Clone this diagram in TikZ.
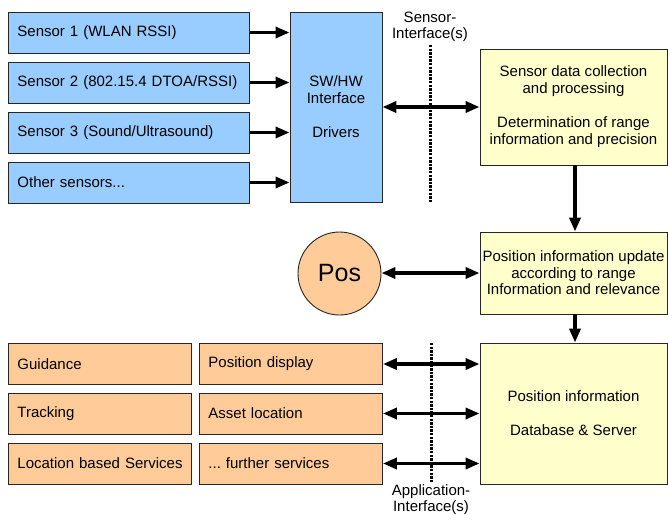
\documentclass[tikz,border=0pt]{standalone}
\usepackage{fontspec}
\setmainfont{Liberation Sans}
\usetikzlibrary{arrows.meta}
\definecolor{sblue}{HTML}{99CCFF}
\definecolor{sorange}{HTML}{FFCC99}
\definecolor{syellow}{HTML}{FFFFCC}
\frenchspacing
\begin{document}
\begin{tikzpicture}[x=1pt,y=-1pt,
  box/.style={draw=black!85, line width=0.9pt, inner sep=0pt, font=\fontsize{15}{17}\selectfont},
  lbox/.style={box, align=left, inner xsep=9pt, minimum height=41pt, anchor=west},
  cbox/.style={box, align=center},
  conn/.style={line width=3.4pt, -{Triangle[length=14pt,width=11pt]}},
  biconn/.style={line width=3.4pt, {Triangle[length=14pt,width=11pt]}-{Triangle[length=14pt,width=11pt]}},
  ifline/.style={line width=3pt, dash pattern=on 2.4pt off 1.2pt},
  iflabel/.style={align=center, inner sep=0pt, font=\fontsize{15}{16.5}\selectfont}
]
\useasboundingbox (0,0) rectangle (668,514);

% sensors
\node[lbox, fill=sblue, text width=223pt] (s1) at (8,32.5) {Sensor 1 (WLAN RSSI)};
\node[lbox, fill=sblue, text width=223pt] (s2) at (8,82.5) {Sensor 2 (802.15.4 DTOA/RSSI)};
\node[lbox, fill=sblue, text width=223pt] (s3) at (8,132.5) {Sensor 3 (Sound/Ultrasound)};
\node[lbox, fill=sblue, text width=223pt] (s4) at (8,182.5) {Other sensors...};

\node[cbox, fill=sblue, minimum width=92pt, minimum height=190pt] (sw) at (336,107)
  {SW/HW\\Interface\\[17pt]Drivers};

\foreach \s in {s1,s2,s3,s4}
  \draw[conn] (\s.east) -- (\s.east -| sw.west);

% sensor interface
\node[iflabel] (silabel) at (430,27) {Sensor-\\Interface(s)};
\coordinate (sitop) at (430,45);
\coordinate (sibot) at (430,202);
\draw[ifline] (sitop) -- (sibot);

% yellow boxes
\node[cbox, fill=syellow, minimum width=187pt, minimum height=116pt] (y1) at (573.5,107)
  {Sensor data collection\\and processing\\[17pt]Determination of range\\information and precision};
\node[cbox, fill=syellow, minimum width=187pt, minimum height=82pt, font=\fontsize{15}{16.5}\selectfont] (y2) at (573.5,273)
  {Position information update\\according to range\\Information and relevance};
\node[cbox, fill=syellow, minimum width=187pt, minimum height=141pt] (y3) at (573.5,413.5)
  {Position information\\[17pt]Database \& Server};

\draw[biconn] (sw.east |- y1.west) -- (y1.west);
\draw[conn] (y1.south -| 575,0) -- (y2.north -| 575,0);
\draw[conn] (y2.south -| 575,0) -- (y3.north -| 575,0);

% Pos
\node[circle, draw=black!85, line width=0.9pt, fill=sorange, minimum size=83pt, inner sep=0pt,
  font=\fontsize{25}{30}\selectfont] (pos) at (339.5,273.5) {Pos};
\draw[biconn] (pos.east |- y2.west) -- (y2.west);

% applications
\node[lbox, fill=sorange, text width=165pt] (a1) at (8,364) {Guidance};
\node[lbox, fill=sorange, text width=165pt] (a2) at (8,413.5) {Tracking};
\node[lbox, fill=sorange, text width=165pt] (a3) at (8,463.5) {\mbox{Location based Services}};
\node[lbox, fill=sorange, text width=165pt] (b1) at (199,364) {Position display};
\node[lbox, fill=sorange, text width=165pt] (b2) at (199,413.5) {Asset location};
\node[lbox, fill=sorange, text width=165pt] (b3) at (199,463.5) {... further services};

\foreach \b in {b1,b2,b3}
  \draw[biconn] (\b.east) -- (\b.east -| y3.west);

\coordinate (aitop) at (431,343);
\coordinate (aibot) at (431,483);
\draw[ifline] (aitop) -- (aibot);
\node[iflabel] (ailabel) at (431,499.5) {Application-\\Interface(s)};
\end{tikzpicture}
\end{document}
